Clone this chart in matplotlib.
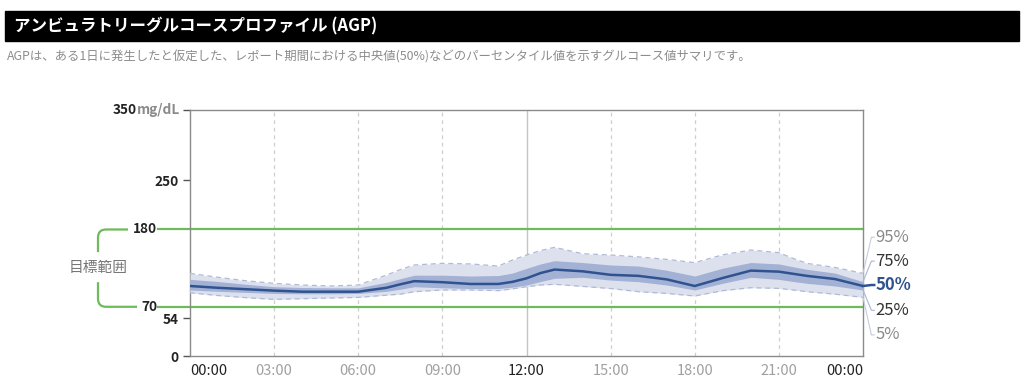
import matplotlib
matplotlib.use("Agg")
import matplotlib.pyplot as plt
from matplotlib.patches import Rectangle
from matplotlib.path import Path
from matplotlib.patches import PathPatch
import matplotlib.transforms as mtransforms

plt.rcParams['font.family'] = ['Noto Sans CJK JP', 'DejaVu Sans']

# ---------------- data ----------------
hours = [0, 1, 2, 3, 4, 5, 6, 7, 7.5, 8, 9, 10, 11, 11.5, 12, 12.5, 13, 14, 15, 16, 17, 18, 19, 20, 21, 21.5, 22, 23, 24]
p50 = [99.6, 97, 95, 93, 91.5, 91.5, 91.5, 97, 102, 106.5, 105, 102.5, 102.5, 105.5, 110.5, 118, 123, 120.5, 115.5, 114, 109, 99.6, 111, 121.5, 120, 117, 114, 109.5, 99.6]
p75 = [109, 106, 102, 98.6, 97.5, 97, 97, 104.8, 110, 115, 115, 113.8, 114.5, 118, 124.7, 131, 135.6, 133, 129.5, 128, 122, 113.8, 125, 133, 131, 127, 123.3, 118, 105.7]
p25 = [93.9, 92, 90.5, 89, 88.5, 88.5, 89, 92, 95, 98.6, 97, 96, 96, 98, 101, 106, 110.5, 112, 108, 105.7, 101, 93.9, 103.5, 112, 109, 106, 103.4, 99.6, 93.9]
p95 = [117.6, 112, 107, 103.4, 101, 99.6, 101, 115, 123, 129.5, 131.8, 131, 128, 136.6, 143.7, 150, 154.6, 145.5, 143.7, 141, 137.5, 132.8, 144, 150.8, 147, 139, 131.8, 126, 117.6]
p05 = [90, 86, 83, 80.6, 81.5, 82.5, 83.4, 86.5, 88, 91.5, 93.9, 93.9, 93, 95.5, 98.6, 101, 102, 99, 96, 91.5, 89, 85.4, 93, 97.2, 96.2, 94, 91.5, 88, 83.4]

xtick_pos = [0, 3, 6, 9, 12, 15, 18, 21, 24]
xtick_labels = ['00:00', '03:00', '06:00', '09:00', '12:00', '15:00', '18:00', '21:00', '00:00']
ytick_pos = [0, 54, 250]
target_low, target_high = 70, 180
ymax = 350

title = 'アンビュラトリーグルコースプロファイル (AGP)'
subtitle = 'AGPは、ある1日に発生したと仮定した、レポート期間における中央値(50%)などのパーセンタイル値を示すグルコース値サマリです。'
pct_labels = ['95%', '75%', '50%', '25%', '5%']
pct_label_y = [169, 135, 101, 65, 30]

# ---------------- figure ----------------
W, H = 1024, 385
fig = plt.figure(figsize=(W / 100, H / 100), dpi=100)

ov = fig.add_axes([0, 0, 1, 1], zorder=0)
ov.set_xlim(0, W)
ov.set_ylim(H, 0)
ov.axis('off')

ov.add_patch(Rectangle((5, 11), 1014, 30, color='black'))
ov.text(14, 26.5, title, color='white', fontsize=11.9, fontweight='bold', va='center', ha='left')
ov.text(7, 57, subtitle, color='#8c8c8c', fontsize=8.9, va='center', ha='left')

L, R, B, T = 190, 863, 356, 110
ax = fig.add_axes([L / W, 1 - B / H, (R - L) / W, (B - T) / H], zorder=1)
ax.patch.set_alpha(0)
ax.set_xlim(0, 24)
ax.set_ylim(0, ymax)

for xp in xtick_pos[1:-1]:
    if xp == 12:
        ax.axvline(xp, color='#c4c4c4', lw=1, zorder=1)
    else:
        ax.axvline(xp, color='#cfcfcf', lw=0.9, ls=(0, (3, 3)), zorder=1)

green = '#6dbb5a'
blend = mtransforms.blended_transform_factory(ax.transAxes, ax.transData)
for yv in (target_high, target_low):
    ax.plot([-32 / (R - L), 1], [yv, yv], color=green, lw=1.6, transform=blend, clip_on=False, zorder=2)

outer_fill = '#dde1ee'
inner_fill = '#a3b1d5'
ax.fill_between(hours, p05, p95, color=outer_fill, lw=0, zorder=3)
ax.plot(hours, p95, color='#b0bad8', lw=0.9, ls=(0, (4, 3)), zorder=4)
ax.plot(hours, p05, color='#b0bad8', lw=0.9, ls=(0, (4, 3)), zorder=4)
ax.fill_between(hours, p25, p75, color=inner_fill, lw=0, zorder=5)
ax.plot(hours, p50, color='#2f5390', lw=1.8, zorder=6, solid_joinstyle='round')

for s in ax.spines.values():
    s.set_color('#8a8a8a')
    s.set_linewidth(1)

ax.set_xticks(xtick_pos)
ax.set_xticklabels(xtick_labels, fontsize=10.5)
ax.tick_params(axis='x', length=0, pad=6)
xl_objs = ax.get_xticklabels()
for i, lab in enumerate(xl_objs):
    if xtick_pos[i] in (0, 12, 24):
        lab.set_color('#222222')
    else:
        lab.set_color('#a0a0a0')
xl_objs[0].set_horizontalalignment('left')
xl_objs[-1].set_horizontalalignment('right')

ax.set_yticks(ytick_pos + [ymax])
ax.set_yticklabels([str(v) for v in ytick_pos] + [''], fontsize=9.8, fontweight='bold')
ax.tick_params(axis='y', length=5, width=1, color='#555555', pad=3, labelcolor='#222222')

off = mtransforms.offset_copy
ax.text(0, ymax, 'mg/dL', transform=off(blend, fig=fig, x=-10, y=0, units='dots'),
        ha='right', va='center', fontsize=9.8, fontweight='bold', color='#8a8a8a')
ax.text(0, ymax, str(ymax), transform=off(blend, fig=fig, x=-53, y=0, units='dots'),
        ha='right', va='center', fontsize=9.8, fontweight='bold', color='#222222')
for yv in (target_high, target_low):
    ax.text(0, yv, str(yv), transform=off(blend, fig=fig, x=-33, y=0, units='dots'),
            ha='right', va='center', fontsize=9.8, fontweight='bold', color='#222222')

def to_px(yv):
    d = ax.transData.transform((0, yv))
    return H - d[1]

yt, yb = to_px(target_high), to_px(target_low)
ymid = (yt + yb) / 2
xl, r = 98, 8
codes = [Path.MOVETO, Path.LINETO, Path.CURVE3, Path.CURVE3, Path.LINETO]
verts = [(128, yt), (xl + r, yt), (xl, yt), (xl, yt + r), (xl, ymid - 16)]
ov.add_patch(PathPatch(Path(verts, codes), fill=False, ec=green, lw=1.6))
verts = [(137, yb), (xl + r, yb), (xl, yb), (xl, yb - r), (xl, ymid + 14)]
ov.add_patch(PathPatch(Path(verts, codes), fill=False, ec=green, lw=1.6))
ov.text(xl, ymid, '目標範囲', ha='center', va='center', fontsize=10.6, color='#777777')

ends = [p95[-1], p75[-1], p50[-1], p25[-1], p05[-1]]
lcolors = ['#c5cbe0', '#a9b5d6', '#2f5390', '#a9b5d6', '#c5cbe0']
tcolors = ['#8a8a8a', '#333333', '#2f5390', '#333333', '#8a8a8a']
for lab, ly, ey, lc, tc in zip(pct_labels, pct_label_y, ends, lcolors, tcolors):
    bold = lab == '50%'
    ax.plot([24, 24.3, 24.4], [ey, ly, ly], color=lc, lw=1.8 if bold else 0.8,
            clip_on=False, zorder=6)
    ax.text(24.45, ly, lab, ha='left', va='center', fontsize=12,
            fontweight='bold' if bold else 'normal', color=tc, clip_on=False)

fig.savefig('out.png', dpi=100)
